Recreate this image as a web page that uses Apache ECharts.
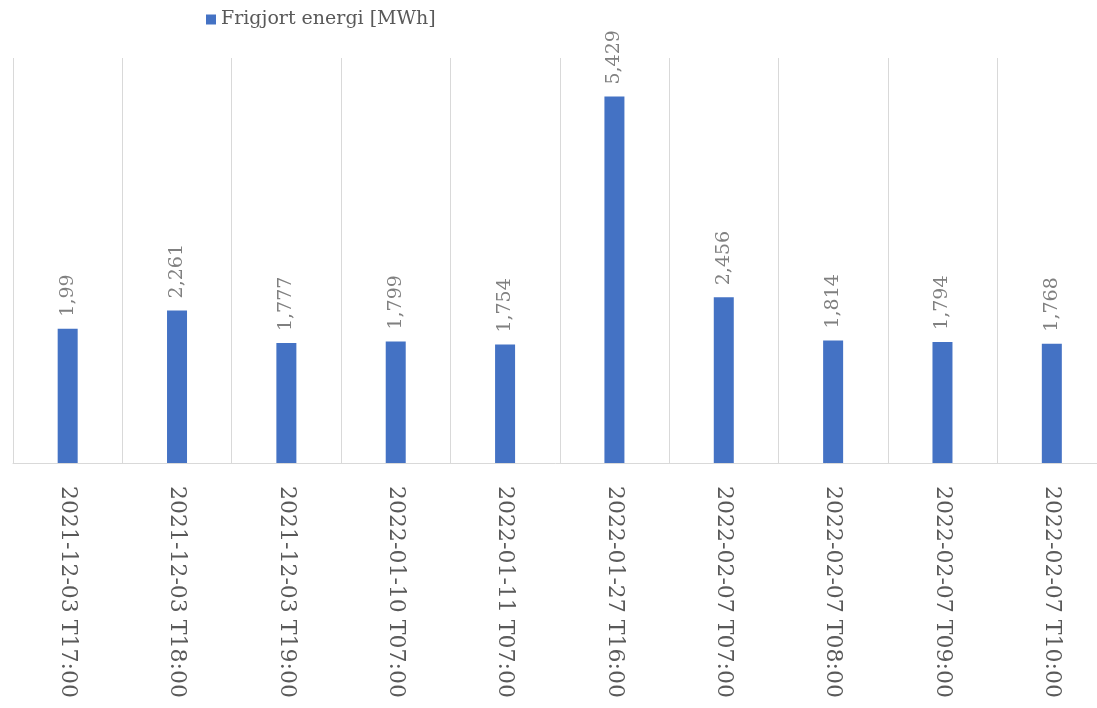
<!DOCTYPE html>
<html>
<head>
<meta charset="utf-8">
<script src="https://cdn.jsdelivr.net/npm/echarts@6/dist/echarts.min.js"></script>
<style>
  html, body { margin: 0; padding: 0; background: #ffffff; overflow: hidden; }
  #chart { width: 1097px; height: 708px; }
</style>
</head>
<body>
<div id="chart"></div>
<script>
// Release events (timestamps) and the energy released in each, in MWh
const categories = [
  '2021-12-03 T17:00',
  '2021-12-03 T18:00',
  '2021-12-03 T19:00',
  '2022-01-10 T07:00',
  '2022-01-11 T07:00',
  '2022-01-27 T16:00',
  '2022-02-07 T07:00',
  '2022-02-07 T08:00',
  '2022-02-07 T09:00',
  '2022-02-07 T10:00'
];
const seriesName = 'Frigjort energi [MWh]';
const energyValues = [1.99, 2.261, 1.777, 1.799, 1.754, 5.429, 2.456, 1.814, 1.794, 1.768];

const FONT = '"DejaVu Serif", serif';

function draw() {
  const chart = echarts.init(document.getElementById('chart'), null, { renderer: 'canvas' });
  chart.setOption({
    animation: false,
    backgroundColor: '#ffffff',
    legend: {
      data: [seriesName],
      left: 201,
      top: 5,
      icon: 'rect',
      itemWidth: 10,
      itemHeight: 10,
      textStyle: { fontFamily: FONT, fontSize: 19, color: '#595959' }
    },
    // the plot runs slightly past the right edge of the page
    grid: {
      left: 13, top: 58, width: 1093.5, bottom: 245,
      containLabel: false, outerBoundsMode: 'none'
    },
    xAxis: {
      type: 'category',
      data: categories,
      boundaryGap: true,
      axisLine: { show: true, lineStyle: { color: '#d9d9d9', width: 1 } },
      axisTick: { show: false },
      splitLine: { show: true, lineStyle: { color: '#d9d9d9', width: 1 } },
      axisLabel: {
        interval: 0,
        rotate: -90,
        margin: 23,
        hideOverlap: false,
        fontFamily: FONT,
        fontSize: 22,
        color: '#595959'
      }
    },
    yAxis: {
      type: 'value',
      min: 0,
      max: 6,
      show: false,
      splitLine: { show: false }
    },
    series: [{
      name: seriesName,
      type: 'bar',
      data: energyValues,
      barWidth: 20,
      itemStyle: { color: '#4472C4' },
      label: {
        show: true,
        position: 'top',
        rotate: 90,
        align: 'left',
        verticalAlign: 'middle',
        distance: 12,
        fontFamily: FONT,
        fontSize: 19,
        color: '#808080',
        formatter: p => String(p.value).replace('.', ',')
      }
    }]
  });
}

// make sure the serif face is ready before the canvas paints text
if (document.fonts && document.fonts.load) {
  Promise.all([
    document.fonts.load('22px "DejaVu Serif"'),
    document.fonts.load('19px "DejaVu Serif"')
  ]).then(draw, draw);
} else {
  draw();
}
</script>
</body>
</html>
